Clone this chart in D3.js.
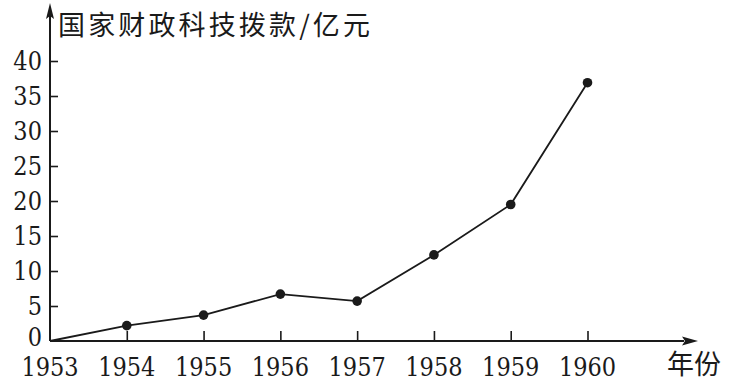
<!DOCTYPE html>
<html><head><meta charset="utf-8">
<script src="https://cdn.jsdelivr.net/npm/d3@7"></script>
<style>body{margin:0;background:#fff}svg{display:block}</style>
</head><body>
<svg id="c" width="735" height="383"></svg>
<script>
const years = [1953, 1954, 1955, 1956, 1957, 1958, 1959, 1960];
const funding = [0, 2.2, 3.7, 6.7, 5.7, 12.3, 19.5, 36.9];
const yTicks = [0, 5, 10, 15, 20, 25, 30, 35, 40];
const yTitle = "国家财政科技拨款/亿元";
const xTitle = "年份";

const svg = d3.select("#c");
const ox = 50, oy = 341;
const x = d3.scaleLinear().domain([1953, 1960]).range([ox, 587.5]);
const y = d3.scaleLinear().domain([0, 40]).range([oy, 61]);
const ink = "#1a1a1a";
const serif = "DejaVu Serif";
const cjk = "Noto Sans CJK SC";

// axes lines
svg.append("line").attr("x1", ox).attr("y1", oy).attr("x2", 684).attr("y2", oy)
  .attr("stroke", ink).attr("stroke-width", 2);
svg.append("path").attr("d", `M698,${oy} L682,${oy-4.5} L685,${oy} L682,${oy+4.5} Z`).attr("fill", ink);
svg.append("line").attr("x1", ox).attr("y1", oy).attr("x2", ox).attr("y2", 16)
  .attr("stroke", ink).attr("stroke-width", 2);
svg.append("path").attr("d", `M${ox},3 L${ox-4},19 L${ox},16 L${ox+4},19 Z`).attr("fill", ink);

// y axis ticks inside
const yAxis = d3.axisRight(y).tickValues(yTicks).tickSize(8).tickFormat("");
const ga = svg.append("g").attr("transform", `translate(${ox},0)`).call(yAxis);
ga.select(".domain").remove();
ga.selectAll("line").attr("stroke", ink).attr("stroke-width", 1.6)
  .filter(d => d === 0).remove();
svg.selectAll(".ylab").data(yTicks).join("text")
  .attr("transform", d => `translate(42,${d === 0 ? y(d) - 4 : y(d)}) scale(0.9,1.05)`)
  .attr("dy", "0.36em")
  .attr("text-anchor", "end").attr("font-family", serif).attr("font-size", 25)
  .attr("fill", ink).text(d => d);

// x axis ticks upward
const xAxis = d3.axisTop(x).tickValues(years.slice(1)).tickSize(10).tickFormat("");
const gx = svg.append("g").attr("transform", `translate(0,${oy})`).call(xAxis);
gx.select(".domain").remove();
gx.selectAll("line").attr("stroke", ink).attr("stroke-width", 1.6);
svg.selectAll(".xlab").data(years).join("text")
  .attr("transform", d => `translate(${x(d)},376) scale(0.9,1.05)`)
  .attr("text-anchor", "middle").attr("font-family", serif).attr("font-size", 25)
  .attr("fill", ink).text(d => d);

// titles
svg.append("text").attr("x", 58).attr("y", 35).attr("font-family", cjk).attr("font-size", 27)
  .attr("textLength", 312).attr("lengthAdjust", "spacing").attr("fill", ink).text(yTitle);
svg.append("text").attr("x", 667).attr("y", 374).attr("font-family", cjk).attr("font-size", 27)
  .attr("fill", ink).text(xTitle);

// line + points
const pts = years.map((yr, i) => [yr, funding[i]]);
svg.append("path").datum(pts)
  .attr("d", d3.line().x(d => x(d[0])).y(d => y(d[1])))
  .attr("fill", "none").attr("stroke", ink).attr("stroke-width", 1.8);
svg.selectAll(".pt").data(pts.slice(1)).join("circle")
  .attr("cx", d => x(d[0])).attr("cy", d => y(d[1])).attr("r", 4.8).attr("fill", ink);
</script>
</body></html>
